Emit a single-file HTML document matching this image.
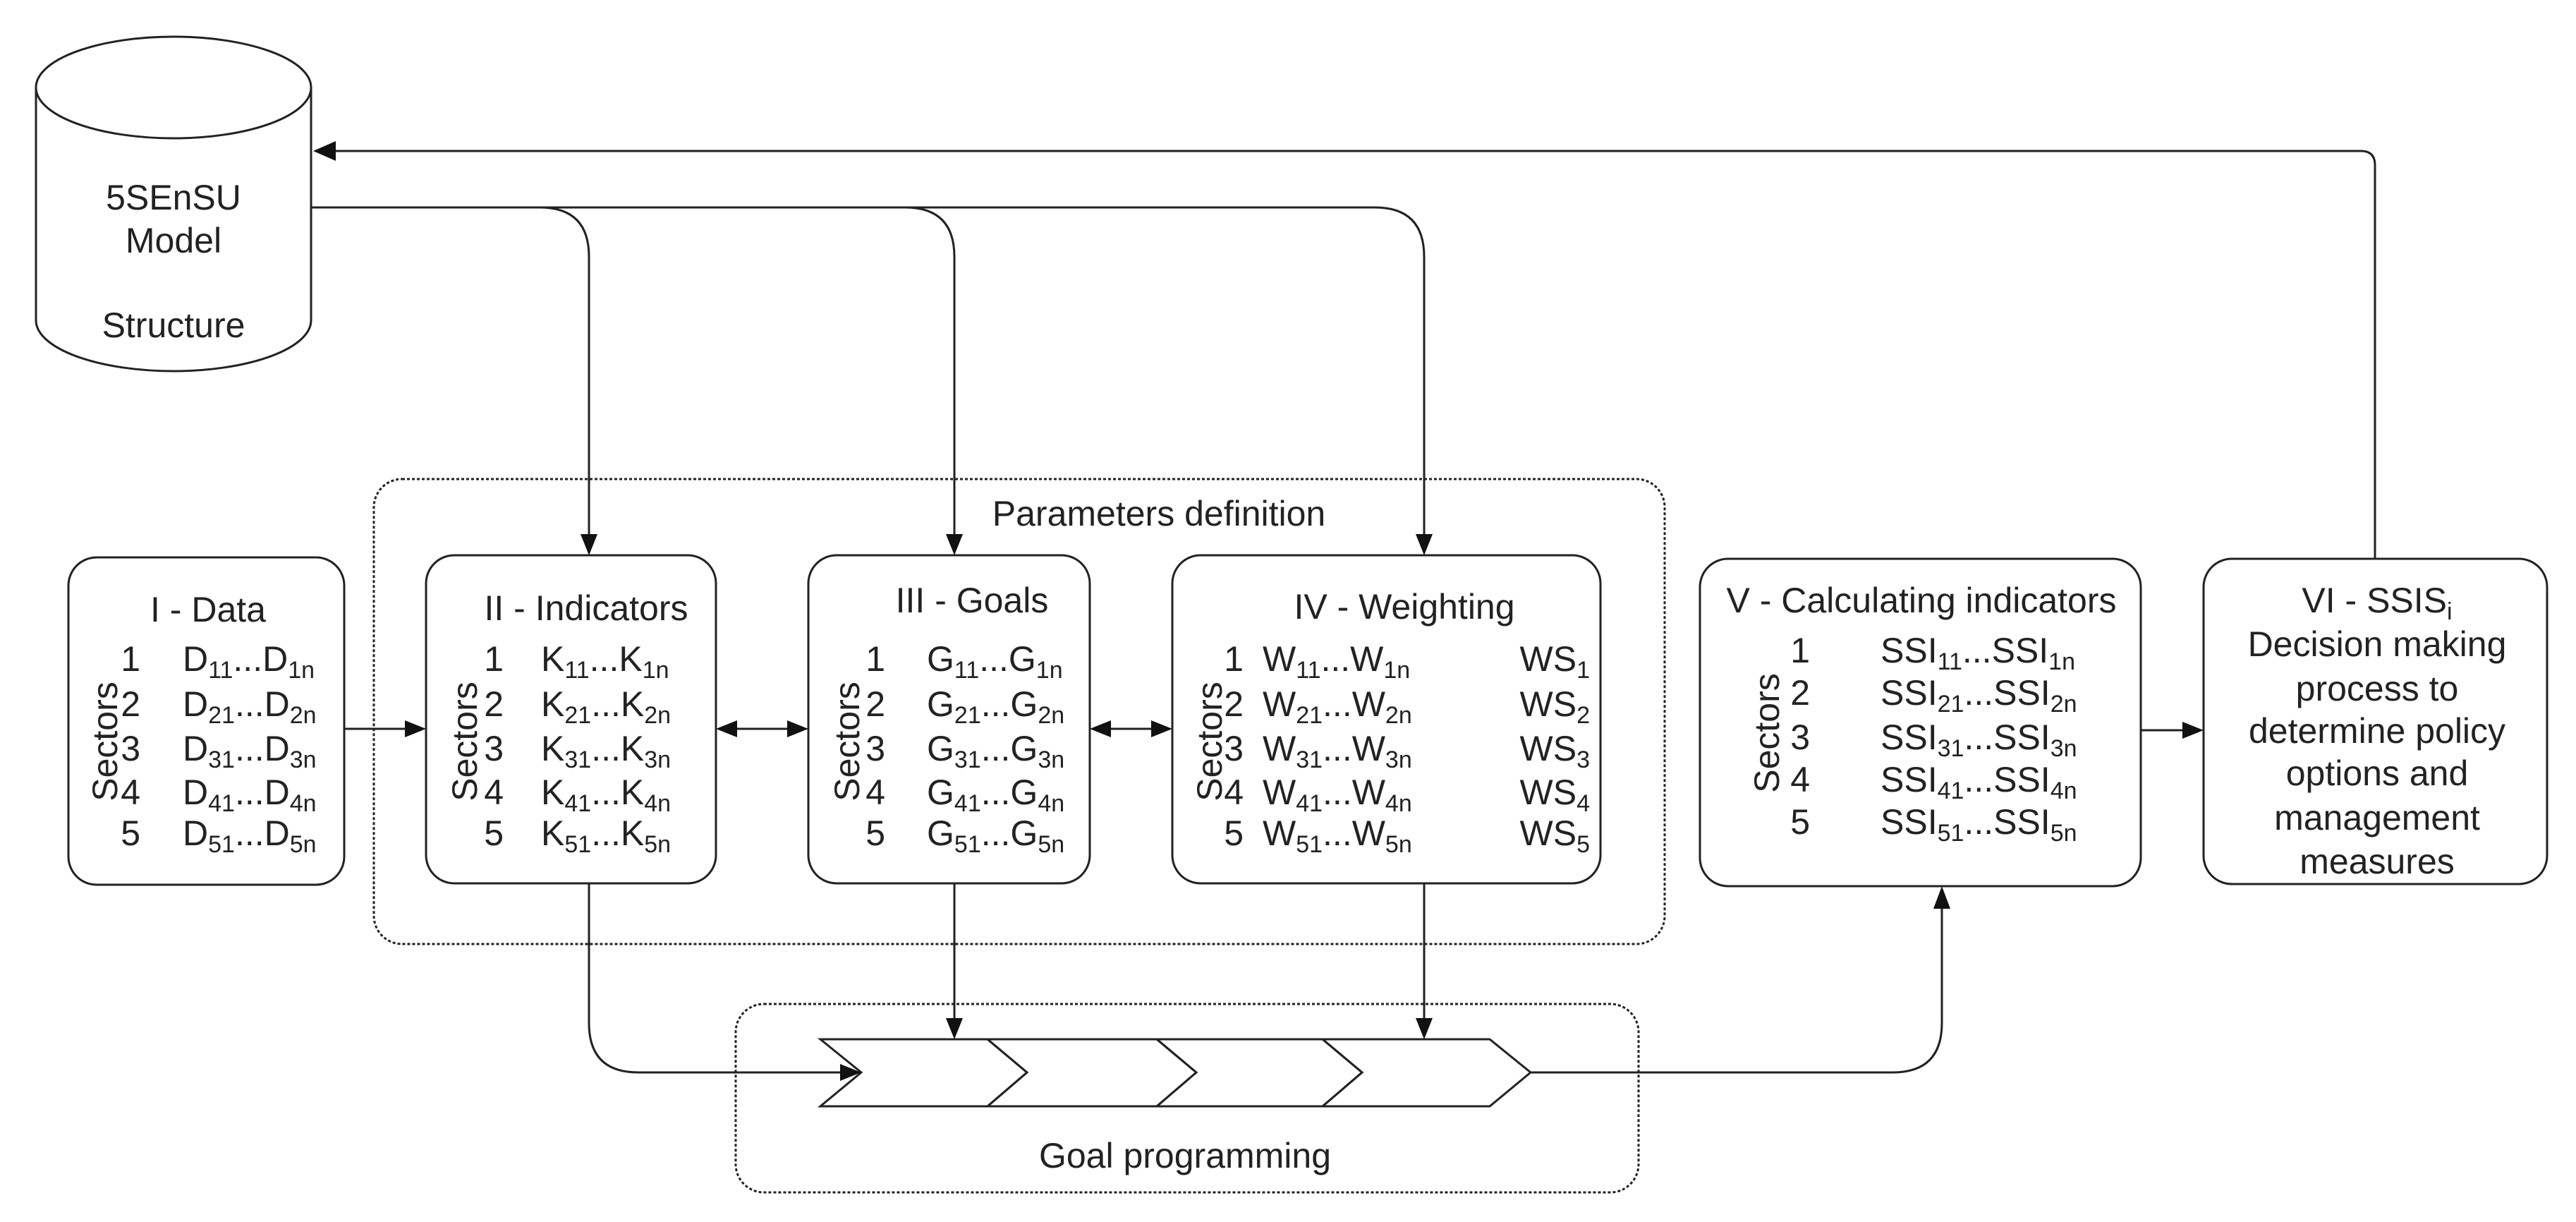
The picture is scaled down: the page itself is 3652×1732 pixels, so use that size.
<!DOCTYPE html>
<html><head><meta charset="utf-8"><style>
html,body{margin:0;padding:0;background:#fff}
svg{display:block}
text{font-family:"Liberation Sans",sans-serif;font-size:50px;fill:#222}
</style></head><body>
<svg width="3652" height="1732" viewBox="0 0 3652 1732" xmlns="http://www.w3.org/2000/svg">
<g fill="none" stroke="#222" stroke-width="3">
<!-- cylinder -->
<path d="M51,124 L51,454 A195,72 0 0 0 441,454 L441,124"/>
<ellipse cx="246" cy="124" rx="195" ry="72"/>
<!-- dotted boxes -->
<rect x="530" y="679" width="1830" height="659" rx="40" stroke-dasharray="4 3"/>
<rect x="1043" y="1423" width="1280" height="267" rx="40" stroke-dasharray="4 3"/>
<!-- boxes -->
<rect x="97" y="790" width="391" height="464" rx="40"/>
<rect x="604" y="787" width="411" height="465" rx="40"/>
<rect x="1146" y="787" width="399" height="465" rx="40"/>
<rect x="1662" y="787" width="607" height="465" rx="40"/>
<rect x="2410" y="792" width="625" height="464" rx="40"/>
<rect x="3124" y="792" width="487" height="461" rx="40"/>
<!-- top lines -->
<path d="M441,294 L1949,294 Q2019,294 2019,364 L2019,760"/>
<path d="M765,294 Q835,294 835,364 L835,760"/>
<path d="M1283,294 Q1353,294 1353,364 L1353,760"/>
<!-- return -->
<path d="M3367,792 L3367,234 Q3367,214 3347,214 L474,214"/>
<!-- I to II -->
<path d="M488,1033 L576,1033"/>
<!-- double arrows -->
<path d="M1043,1033 L1118,1033"/>
<path d="M1573,1033 L1634,1033"/>
<!-- V to VI -->
<path d="M3035,1035 L3096,1035"/>
<!-- down from II -->
<path d="M835,1252 L835,1450 Q835,1520 905,1520 L1193,1520"/>
<path d="M1353,1252 L1353,1445"/>
<path d="M2019,1252 L2019,1445"/>
<!-- out to V -->
<path d="M2170,1520 L2683,1520 Q2753,1520 2753,1450 L2753,1286"/>
<!-- chevrons -->
<path d="M1163,1473 L1400,1473 L1456,1520 L1400,1568 L1163,1568 L1221,1520 Z"/>
<path d="M1400,1473 L1640,1473 L1696,1520 L1640,1568 L1400,1568 L1456,1520 Z"/>
<path d="M1640,1473 L1875,1473 L1931,1520 L1875,1568 L1640,1568 L1696,1520 Z"/>
<path d="M1875,1473 L2112,1473 L2170,1520 L2112,1568 L1875,1568 L1931,1520 Z"/>
</g>
<g fill="#111">
<polygon points="444,214 476,200 476,228"/>
<polygon points="835,787 823,757 847,757"/>
<polygon points="1353,787 1341,757 1365,757"/>
<polygon points="2019,787 2007,757 2031,757"/>
<polygon points="604,1033 574,1021 574,1045"/>
<polygon points="1015,1033 1045,1021 1045,1045"/>
<polygon points="1146,1033 1116,1021 1116,1045"/>
<polygon points="1545,1033 1575,1021 1575,1045"/>
<polygon points="1662,1033 1632,1021 1632,1045"/>
<polygon points="3124,1035 3094,1023 3094,1047"/>
<polygon points="1221,1520 1191,1508 1191,1532"/>
<polygon points="1353,1473 1341,1443 1365,1443"/>
<polygon points="2019,1473 2007,1443 2031,1443"/>
<polygon points="2753,1256 2741,1288 2765,1288"/>
</g>
<!-- cylinder text -->
<text x="246" y="297" text-anchor="middle">5SEnSU</text>
<text x="246" y="358" text-anchor="middle">Model</text>
<text x="246" y="478" text-anchor="middle">Structure</text>
<text x="1643" y="745" text-anchor="middle">Parameters definition</text>
<text x="1680" y="1655" text-anchor="middle">Goal programming</text>
<!-- titles -->
<text x="295" y="881" text-anchor="middle">I - Data</text>
<text x="831" y="879" text-anchor="middle">II - Indicators</text>
<text x="1378" y="868" text-anchor="middle">III - Goals</text>
<text x="1991" y="877" text-anchor="middle">IV - Weighting</text>
<text x="2724" y="868" text-anchor="middle">V - Calculating indicators</text>
<!-- Sectors -->
<text x="166" y="1051" text-anchor="middle" transform="rotate(-90 166 1051)">Sectors</text>
<text x="676" y="1051" text-anchor="middle" transform="rotate(-90 676 1051)">Sectors</text>
<text x="1218" y="1051" text-anchor="middle" transform="rotate(-90 1218 1051)">Sectors</text>
<text x="1732" y="1051" text-anchor="middle" transform="rotate(-90 1732 1051)">Sectors</text>
<text x="2522" y="1039" text-anchor="middle" transform="rotate(-90 2522 1039)">Sectors</text>
<!-- numbers -->
<g text-anchor="end">
<text x="199" y="951">1</text><text x="199" y="1015">2</text><text x="199" y="1078">3</text><text x="199" y="1140">4</text><text x="199" y="1198">5</text>
<text x="714" y="951">1</text><text x="714" y="1015">2</text><text x="714" y="1078">3</text><text x="714" y="1140">4</text><text x="714" y="1198">5</text>
<text x="1255" y="951">1</text><text x="1255" y="1015">2</text><text x="1255" y="1078">3</text><text x="1255" y="1140">4</text><text x="1255" y="1198">5</text>
<text x="1763" y="951">1</text><text x="1763" y="1015">2</text><text x="1763" y="1078">3</text><text x="1763" y="1140">4</text><text x="1763" y="1198">5</text>
<text x="2566" y="939">1</text><text x="2566" y="999">2</text><text x="2566" y="1062">3</text><text x="2566" y="1122">4</text><text x="2566" y="1182">5</text>
<text x="2254" y="951">WS<tspan font-size="34" dy="10">1</tspan></text>
<text x="2254" y="1015">WS<tspan font-size="34" dy="10">2</tspan></text>
<text x="2254" y="1078">WS<tspan font-size="34" dy="10">3</tspan></text>
<text x="2254" y="1140">WS<tspan font-size="34" dy="10">4</tspan></text>
<text x="2254" y="1198">WS<tspan font-size="34" dy="10">5</tspan></text>
</g>
<!-- D -->
<text x="259" y="951">D<tspan font-size="34" dy="10">11</tspan><tspan dy="-10">...D</tspan><tspan font-size="34" dy="10">1n</tspan></text>
<text x="259" y="1015">D<tspan font-size="34" dy="10">21</tspan><tspan dy="-10">...D</tspan><tspan font-size="34" dy="10">2n</tspan></text>
<text x="259" y="1078">D<tspan font-size="34" dy="10">31</tspan><tspan dy="-10">...D</tspan><tspan font-size="34" dy="10">3n</tspan></text>
<text x="259" y="1140">D<tspan font-size="34" dy="10">41</tspan><tspan dy="-10">...D</tspan><tspan font-size="34" dy="10">4n</tspan></text>
<text x="259" y="1198">D<tspan font-size="34" dy="10">51</tspan><tspan dy="-10">...D</tspan><tspan font-size="34" dy="10">5n</tspan></text>
<!-- K -->
<text x="767" y="951">K<tspan font-size="34" dy="10">11</tspan><tspan dy="-10">...K</tspan><tspan font-size="34" dy="10">1n</tspan></text>
<text x="767" y="1015">K<tspan font-size="34" dy="10">21</tspan><tspan dy="-10">...K</tspan><tspan font-size="34" dy="10">2n</tspan></text>
<text x="767" y="1078">K<tspan font-size="34" dy="10">31</tspan><tspan dy="-10">...K</tspan><tspan font-size="34" dy="10">3n</tspan></text>
<text x="767" y="1140">K<tspan font-size="34" dy="10">41</tspan><tspan dy="-10">...K</tspan><tspan font-size="34" dy="10">4n</tspan></text>
<text x="767" y="1198">K<tspan font-size="34" dy="10">51</tspan><tspan dy="-10">...K</tspan><tspan font-size="34" dy="10">5n</tspan></text>
<!-- G -->
<text x="1314" y="951">G<tspan font-size="34" dy="10">11</tspan><tspan dy="-10">...G</tspan><tspan font-size="34" dy="10">1n</tspan></text>
<text x="1314" y="1015">G<tspan font-size="34" dy="10">21</tspan><tspan dy="-10">...G</tspan><tspan font-size="34" dy="10">2n</tspan></text>
<text x="1314" y="1078">G<tspan font-size="34" dy="10">31</tspan><tspan dy="-10">...G</tspan><tspan font-size="34" dy="10">3n</tspan></text>
<text x="1314" y="1140">G<tspan font-size="34" dy="10">41</tspan><tspan dy="-10">...G</tspan><tspan font-size="34" dy="10">4n</tspan></text>
<text x="1314" y="1198">G<tspan font-size="34" dy="10">51</tspan><tspan dy="-10">...G</tspan><tspan font-size="34" dy="10">5n</tspan></text>
<!-- W -->
<text x="1790" y="951">W<tspan font-size="34" dy="10">11</tspan><tspan dy="-10">...W</tspan><tspan font-size="34" dy="10">1n</tspan></text>
<text x="1790" y="1015">W<tspan font-size="34" dy="10">21</tspan><tspan dy="-10">...W</tspan><tspan font-size="34" dy="10">2n</tspan></text>
<text x="1790" y="1078">W<tspan font-size="34" dy="10">31</tspan><tspan dy="-10">...W</tspan><tspan font-size="34" dy="10">3n</tspan></text>
<text x="1790" y="1140">W<tspan font-size="34" dy="10">41</tspan><tspan dy="-10">...W</tspan><tspan font-size="34" dy="10">4n</tspan></text>
<text x="1790" y="1198">W<tspan font-size="34" dy="10">51</tspan><tspan dy="-10">...W</tspan><tspan font-size="34" dy="10">5n</tspan></text>
<!-- SSI -->
<text x="2666" y="939">SSI<tspan font-size="34" dy="10">11</tspan><tspan dy="-10">...SSI</tspan><tspan font-size="34" dy="10">1n</tspan></text>
<text x="2666" y="999">SSI<tspan font-size="34" dy="10">21</tspan><tspan dy="-10">...SSI</tspan><tspan font-size="34" dy="10">2n</tspan></text>
<text x="2666" y="1062">SSI<tspan font-size="34" dy="10">31</tspan><tspan dy="-10">...SSI</tspan><tspan font-size="34" dy="10">3n</tspan></text>
<text x="2666" y="1122">SSI<tspan font-size="34" dy="10">41</tspan><tspan dy="-10">...SSI</tspan><tspan font-size="34" dy="10">4n</tspan></text>
<text x="2666" y="1182">SSI<tspan font-size="34" dy="10">51</tspan><tspan dy="-10">...SSI</tspan><tspan font-size="34" dy="10">5n</tspan></text>
<!-- VI -->
<g text-anchor="middle">
<text x="3370" y="868">VI - SSIS<tspan font-size="34" dy="10">i</tspan></text>
<text x="3370" y="930">Decision making</text>
<text x="3370" y="993">process to</text>
<text x="3370" y="1053">determine policy</text>
<text x="3370" y="1113">options and</text>
<text x="3370" y="1176">management</text>
<text x="3370" y="1238">measures</text>
</g>
</svg>
</body></html>
